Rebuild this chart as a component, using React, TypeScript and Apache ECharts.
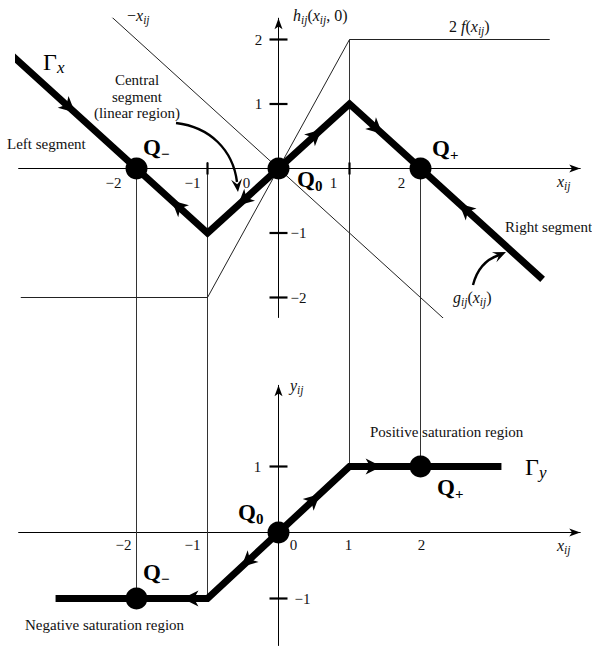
import React, { useEffect, useRef } from "react";
import * as echarts from "echarts";

// ---------------- data ----------------
// Top plot: h_ij(x_ij, 0) versus x_ij
const GAMMA_X = [[-3.75, 1.75], [-1, -1], [1, 1], [3.72, -1.72]];
const NEG_X_LINE = [[-2.4, 2.4], [2.35, -2.35]];
const TWO_F_LINE = [[-3.63, -2], [-1, -2], [1, 2], [3.82, 2]];
const TOP_POINTS = [[-2, 0], [0, 0], [2, 0]];
// [x, y, dirX, dirY]
const TOP_ARROWS = [
  [-2.95, 0.95, 1, -1],
  [-1.42, -0.58, -1, 1],
  [-0.49, -0.49, -1, -1],
  [0.52, 0.52, 1, 1],
  [1.38, 0.62, 1, -1],
  [2.63, -0.63, -1, 1],
];
// Bottom plot: y_ij versus x_ij
const GAMMA_Y = [[-3.14, -1], [-1, -1], [1, 1], [3.14, 1]];
const BOTTOM_POINTS = [[-2, -1], [0, 0], [2, 1]];
const BOTTOM_ARROWS = [
  [-0.44, -0.44, -1, -1],
  [-1.24, -1, -1, 0],
  [0.5, 0.5, 1, 1],
  [1.34, 1, 1, 0],
];
// vertical connectors: [x, y in top plot, y in bottom plot]
const CONNECTORS = [[-2, 0, -1], [-1, 0.1, -1], [1, 2, 1], [2, 0, 1]];
// ticks and tick labels
const TOP_X_TICKS = [-1, 1];
const TOP_Y_TICKS = [2, 1, -1, -2];
const BOTTOM_Y_TICKS = [1, -1];
const TOP_X_LABELS = [-2, -1, 0, 1, 2];
const TOP_Y_LABELS = [2, 1, -1, -2];
const BOTTOM_X_LABELS = [-2, -1, 0, 1, 2];
const BOTTOM_Y_LABELS = [1, -1];

// ---------------- layout ----------------
const ORIGIN_X = 278.5, UX = 71;
const TOP_Y0 = 168.5, TOP_UY = 64.5;
const BOT_Y0 = 532.5, BOT_UY = 66;
const X_MIN = -3.66, X_MAX = 4.25;
const TOP_Y_MIN = -2.31, TOP_Y_MAX = 2.33;
const BOT_Y_MIN = -1.712, BOT_Y_MAX = 2.23;
const SPLIT_PX = 348; // pixel row where connectors pass from top grid to bottom grid
const TOP_EXT = (TOP_Y0 - SPLIT_PX) / TOP_UY;
const BOT_EXT = (BOT_Y0 - SPLIT_PX) / BOT_UY;

const TOP_X_LABEL_OFF = [[-23, 14], [-15, 14], [-32, 14], [-16, 14], [-19, 14]];
const TOP_Y_LABEL_OFF = [[-20, 0], [-20, 0], [20, 0], [20, 0]];
const BOT_X_LABEL_OFF = [[-13, 12], [-15, 12], [15, 12], [-1, 12], [1, 12]];
const BOT_Y_LABEL_OFF = [[-21, 0], [24, 0]];

const SERIF = '"Liberation Serif", "DejaVu Serif", "Times New Roman", serif';
const INK = "#111";

const fmt = (v: number) => (v < 0 ? "\u2212" + Math.abs(v) : String(v));

const HEAD = [[8, 0], [-8, -8], [-3.5, 0], [-8, 8]];

function lineSeries(gi: number, data: number[][], width: number, color: string, z: number, clip = true) {
  return {
    type: "line",
    xAxisIndex: gi,
    yAxisIndex: gi,
    data,
    symbol: "none",
    showSymbol: false,
    silent: true,
    clip,
    z,
    lineStyle: { width, color, cap: "butt", join: "miter", opacity: 1 },
  };
}

function pointSeries(gi: number, data: number[][]) {
  return {
    type: "scatter",
    xAxisIndex: gi,
    yAxisIndex: gi,
    data,
    symbol: "circle",
    symbolSize: 22,
    silent: true,
    z: 8,
    itemStyle: { color: "#000", opacity: 1 },
  };
}

function arrowSeries(gi: number, data: number[][]) {
  return {
    type: "custom",
    xAxisIndex: gi,
    yAxisIndex: gi,
    data,
    silent: true,
    z: 9,
    renderItem: (params: any, api: any) => {
      const x = api.value(0), y = api.value(1), dx = api.value(2), dy = api.value(3);
      const p = api.coord([x, y]);
      const q = api.coord([x + dx * 0.1, y + dy * 0.1]);
      const a = Math.atan2(q[1] - p[1], q[0] - p[0]);
      const c = Math.cos(a), s = Math.sin(a);
      const pts = HEAD.map(([u, v]) => [p[0] + u * c - v * s, p[1] + u * s + v * c]);
      return { type: "polygon", shape: { points: pts }, style: { fill: "#000" } };
    },
  };
}

function tickSeries(gi: number, values: number[], orient: "x" | "y", half: number) {
  return {
    type: "custom",
    xAxisIndex: gi,
    yAxisIndex: gi,
    data: values.map((v) => (orient === "x" ? [v, 0] : [0, v])),
    silent: true,
    z: 5,
    renderItem: (params: any, api: any) => {
      const p = api.coord([api.value(0), api.value(1)]);
      const shape =
        orient === "x"
          ? { x1: p[0], y1: p[1] - half, x2: p[0], y2: p[1] + half }
          : { x1: p[0] - half, y1: p[1], x2: p[0] + half, y2: p[1] };
      return { type: "line", shape, style: { stroke: "#000", lineWidth: 2.2 } };
    },
  };
}

function tickLabelSeries(gi: number, values: number[], orient: "x" | "y", offs: number[][]) {
  return {
    type: "custom",
    xAxisIndex: gi,
    yAxisIndex: gi,
    data: values.map((v) => (orient === "x" ? [v, 0] : [0, v])),
    silent: true,
    z: 10,
    renderItem: (params: any, api: any) => {
      const p = api.coord([api.value(0), api.value(1)]);
      const o = offs[params.dataIndex];
      return {
        type: "text",
        x: p[0] + o[0],
        y: p[1] + o[1],
        style: {
          text: fmt(values[params.dataIndex]),
          fontFamily: SERIF,
          fontSize: 15,
          fill: INK,
          align: "center",
          verticalAlign: "middle",
        },
      };
    },
  };
}

const RICH: any = {
  r: { fontFamily: SERIF, fontSize: 16, lineHeight: 22, verticalAlign: "middle", fill: INK },
  i: { fontFamily: SERIF, fontSize: 16, fontStyle: "italic", lineHeight: 22, verticalAlign: "middle", fill: INK },
  s: { fontFamily: SERIF, fontSize: 11.5, fontStyle: "italic", lineHeight: 12, verticalAlign: "bottom", fill: INK },
  Q: { fontFamily: SERIF, fontSize: 23, fontWeight: "bold", lineHeight: 28, verticalAlign: "middle", fill: "#000" },
  qs: { fontFamily: SERIF, fontSize: 15, fontWeight: "bold", lineHeight: 14, verticalAlign: "bottom", fill: "#000" },
  G: { fontFamily: SERIF, fontSize: 24, lineHeight: 28, verticalAlign: "middle", fill: "#000" },
  gs: { fontFamily: SERIF, fontSize: 17, fontStyle: "italic", lineHeight: 14, verticalAlign: "bottom", fill: "#000" },
};

function txt(x: number, y: number, text: string, align = "left", rich = true, size = 15) {
  return {
    type: "text",
    x,
    y,
    z: 20,
    silent: true,
    style: rich
      ? { text, rich: RICH, align, verticalAlign: "middle" }
      : { text, fontFamily: SERIF, fontSize: size, fill: INK, align, verticalAlign: "middle" },
  };
}

function headPts(tip: number[], from: number[], len: number, hw: number) {
  const a = Math.atan2(tip[1] - from[1], tip[0] - from[0]);
  const c = Math.cos(a), s = Math.sin(a);
  const loc = [[0, 0], [-len, -hw], [-len * 0.6, 0], [-len, hw]];
  return loc.map(([u, v]) => [tip[0] + u * c - v * s, tip[1] + u * s + v * c]);
}

export default function App() {
  const ref = useRef<HTMLDivElement>(null);
  useEffect(() => {
    document.body.style.margin = "0";
    if (!ref.current) return;
    const chart = echarts.init(ref.current, null, { renderer: "svg" });

    const axisLine = {
      show: true,
      onZero: true,
      symbol: ["none", "arrow"],
      symbolSize: [6, 11],
      lineStyle: { color: "#000", width: 1 },
    };
    const hidden = { axisTick: { show: false }, axisLabel: { show: false }, splitLine: { show: false } };

    const series: any[] = [];
    // thin construction lines (top)
    series.push(lineSeries(0, NEG_X_LINE, 1, "#222", 2));
    series.push(lineSeries(0, TWO_F_LINE, 1, "#222", 2));
    // vertical connectors, split across both grids
    CONNECTORS.forEach(([x, yt, yb]) => {
      series.push(lineSeries(0, [[x, yt], [x, TOP_EXT]], 1, "#333", 1, false));
      series.push(lineSeries(1, [[x, yb], [x, BOT_EXT]], 1, "#333", 1, false));
    });
    // thick trajectories
    series.push(lineSeries(0, GAMMA_X, 7, "#000", 6));
    series.push(lineSeries(1, GAMMA_Y, 7, "#000", 6));
    // equilibrium points
    series.push(pointSeries(0, TOP_POINTS));
    series.push(pointSeries(1, BOTTOM_POINTS));
    // direction arrows
    series.push(arrowSeries(0, TOP_ARROWS));
    series.push(arrowSeries(1, BOTTOM_ARROWS));
    // ticks
    series.push(tickSeries(0, TOP_X_TICKS, "x", 6));
    series.push(tickSeries(0, TOP_Y_TICKS, "y", 9));
    series.push(tickSeries(1, BOTTOM_Y_TICKS, "y", 9));
    // tick labels
    series.push(tickLabelSeries(0, TOP_X_LABELS, "x", TOP_X_LABEL_OFF));
    series.push(tickLabelSeries(0, TOP_Y_LABELS, "y", TOP_Y_LABEL_OFF));
    series.push(tickLabelSeries(1, BOTTOM_X_LABELS, "x", BOT_X_LABEL_OFF));
    series.push(tickLabelSeries(1, BOTTOM_Y_LABELS, "y", BOT_Y_LABEL_OFF));

    const c1 = { x1: 176, y1: 123, cpx1: 210, cpy1: 127, cpx2: 233, cpy2: 150, x2: 237, y2: 182 };
    const c2 = { x1: 473, y1: 285, cpx1: 477, cpy1: 269, cpx2: 487, cpy2: 259, x2: 499, y2: 255 };

    const graphic: any[] = [
      { type: "bezierCurve", shape: c1, style: { stroke: "#000", lineWidth: 2.4, fill: "none" }, silent: true, z: 20 },
      { type: "polygon", shape: { points: headPts([238, 192], [236.5, 178], 13, 5.5) }, style: { fill: "#000" }, silent: true, z: 20 },
      { type: "bezierCurve", shape: c2, style: { stroke: "#000", lineWidth: 2.4, fill: "none" }, silent: true, z: 20 },
      { type: "polygon", shape: { points: headPts([506, 252], [496, 256.5], 13, 5.5) }, style: { fill: "#000" }, silent: true, z: 20 },

      txt(127, 15, "{r|\u2212}{i|x}{s|ij}"),
      txt(293, 15, "{i|h}{s|ij}{r|(}{i|x}{s|ij}{r|, 0)}"),
      txt(449, 26, "{r|2 }{i|f}{r|(}{i|x}{s|ij}{r|)}"),
      txt(43, 62, "{G|\u0393}{gs|x}"),
      txt(137, 80, "Central", "center", false),
      txt(137, 97, "segment", "center", false),
      txt(137, 113, "(linear region)", "center", false),
      txt(7, 144, "Left segment", "left", false),
      txt(143, 147, "{Q|Q}{qs|\u2212}"),
      txt(297, 179, "{Q|Q}{qs|0}"),
      txt(432, 148, "{Q|Q}{qs|+}"),
      txt(557, 181, "{i|x}{s|ij}"),
      txt(505, 227, "Right segment", "left", false),
      txt(453, 297, "{i|g}{s|ij}{r|(}{i|x}{s|ij}{r|)}"),
      txt(290, 385, "{i|y}{s|ij}"),
      txt(370, 432, "Positive saturation region", "left", false),
      txt(525, 467, "{G|\u0393}{gs|y}"),
      txt(238, 512, "{Q|Q}{qs|0}"),
      txt(437, 487, "{Q|Q}{qs|+}"),
      txt(143, 572, "{Q|Q}{qs|\u2212}"),
      txt(25, 625, "Negative saturation region", "left", false),
      txt(557, 545, "{i|x}{s|ij}"),
    ];

    chart.setOption({
      animation: false,
      backgroundColor: "#fff",
      grid: [
        {
          left: ORIGIN_X + X_MIN * UX,
          width: (X_MAX - X_MIN) * UX,
          top: TOP_Y0 - TOP_Y_MAX * TOP_UY,
          height: (TOP_Y_MAX - TOP_Y_MIN) * TOP_UY,
          containLabel: false,
          outerBoundsMode: "none",
        },
        {
          left: ORIGIN_X + X_MIN * UX,
          width: (X_MAX - X_MIN) * UX,
          top: BOT_Y0 - BOT_Y_MAX * BOT_UY,
          height: (BOT_Y_MAX - BOT_Y_MIN) * BOT_UY,
          containLabel: false,
          outerBoundsMode: "none",
        },
      ],
      xAxis: [0, 1].map((i) => ({
        type: "value",
        gridIndex: i,
        min: X_MIN,
        max: X_MAX,
        axisLine,
        ...hidden,
      })),
      yAxis: [
        { type: "value", gridIndex: 0, min: TOP_Y_MIN, max: TOP_Y_MAX, axisLine, ...hidden },
        { type: "value", gridIndex: 1, min: BOT_Y_MIN, max: BOT_Y_MAX, axisLine, ...hidden },
      ],
      series,
      graphic,
    });

    return () => chart.dispose();
  }, []);

  return <div ref={ref} style={{ width: 592, height: 646 }} />;
}
